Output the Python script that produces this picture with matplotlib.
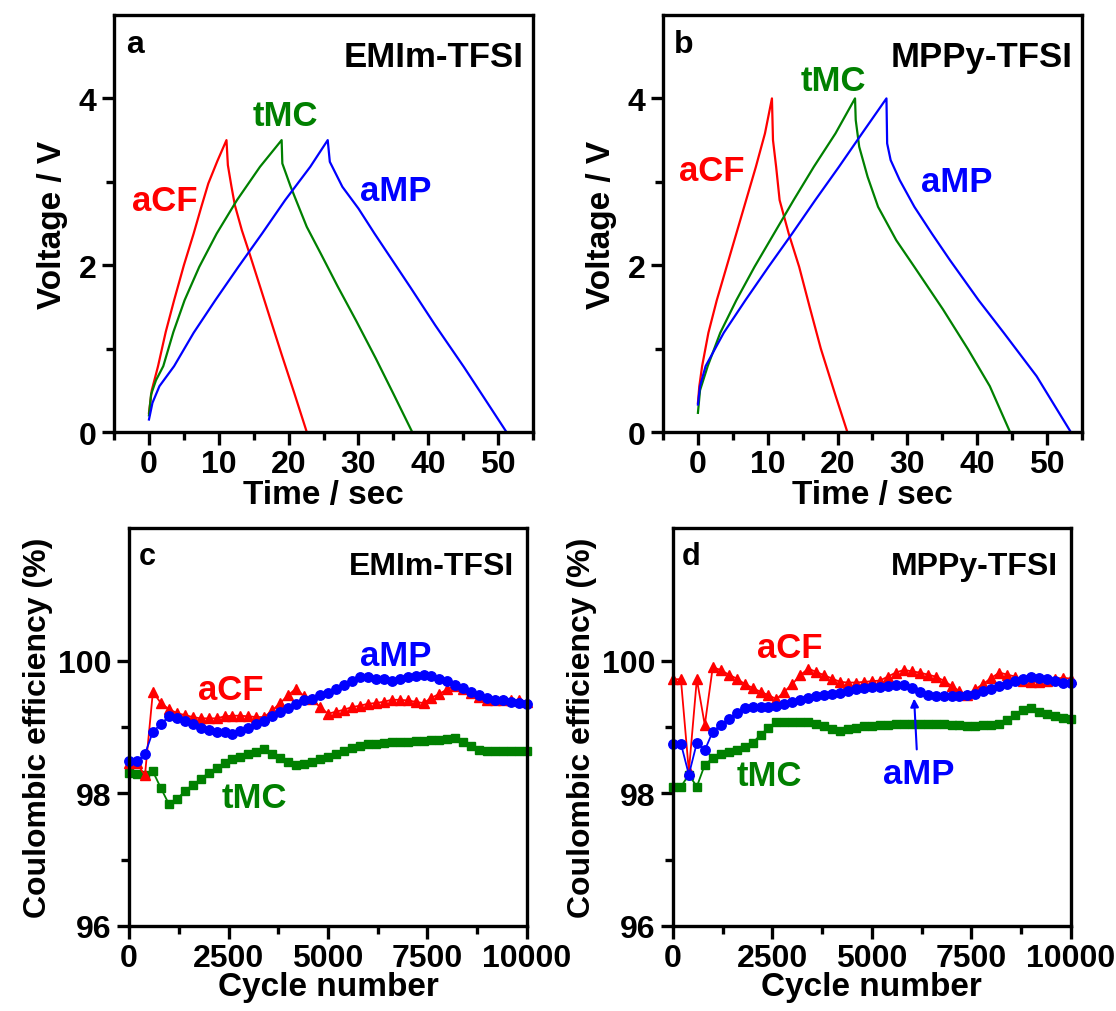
import matplotlib
matplotlib.use("Agg")
import matplotlib.pyplot as plt
from matplotlib.ticker import MultipleLocator, FixedLocator

plt.rcParams['font.family'] = ['Liberation Sans', 'DejaVu Sans']
plt.rcParams['font.weight'] = 'bold'
plt.rcParams['axes.labelweight'] = 'bold'

RED = '#ff0000'
GREEN = '#008000'
BLUE = '#0000ff'

# ---- panel a: EMIm-TFSI charge/discharge (time s, voltage V) ----
a_acf_t = [0, 0.4, 1.3, 2.4, 3.6, 5.0, 6.4, 7.5, 8.5, 9.8, 11.1,
           11.3, 11.8, 12.3, 13.3, 14.4, 16.0, 17.4, 19.0, 20.8, 22.6]
a_acf_v = [0.23, 0.5, 0.79, 1.2, 1.58, 2.0, 2.38, 2.7, 2.98, 3.25, 3.5,
           3.2, 2.95, 2.72, 2.42, 2.14, 1.72, 1.35, 0.93, 0.47, 0.0]
a_tmc_t = [0, 0.3, 1.0, 2.05, 3.5, 5.1, 7.2, 9.7, 12.6, 15.9, 19.0,
           19.1, 20.3, 22.6, 24.6, 27.0, 29.7, 32.5, 35.0, 37.7]
a_tmc_v = [0.2, 0.45, 0.62, 0.79, 1.2, 1.58, 1.98, 2.38, 2.78, 3.18, 3.5,
           3.22, 2.94, 2.46, 2.14, 1.75, 1.33, 0.88, 0.46, 0.0]
a_amp_t = [0, 0.5, 1.5, 3.6, 6.4, 9.5, 12.8, 16.2, 19.5, 23.1, 25.6,
           25.9, 27.7, 30.0, 32.3, 37.4, 41.0, 45.1, 48.0, 51.2]
a_amp_v = [0.15, 0.35, 0.55, 0.79, 1.19, 1.58, 1.98, 2.38, 2.78, 3.18, 3.5,
           3.24, 2.94, 2.68, 2.38, 1.74, 1.28, 0.78, 0.41, 0.0]

# ---- panel b: MPPy-TFSI charge/discharge ----
b_acf_t = [0, 0.2, 0.6, 1.5, 2.7, 4.1, 5.5, 6.9, 8.3, 9.6, 10.6,
           10.75, 11.2, 11.7, 13.0, 14.5, 16.0, 17.6, 19.7, 21.4]
b_acf_v = [0.35, 0.55, 0.79, 1.19, 1.58, 1.98, 2.38, 2.78, 3.18, 3.58, 4.0,
           3.5, 3.18, 2.78, 2.38, 1.98, 1.5, 1.0, 0.44, 0.0]
b_tmc_t = [0, 0.3, 1.4, 3.2, 5.5, 8.1, 10.9, 13.7, 16.6, 19.7, 22.5,
           22.6, 23.1, 24.3, 25.8, 28.4, 31.0, 35.1, 38.7, 41.8, 44.7]
b_tmc_v = [0.23, 0.5, 0.79, 1.19, 1.58, 1.98, 2.38, 2.78, 3.18, 3.58, 4.0,
           3.74, 3.42, 3.06, 2.70, 2.30, 1.98, 1.47, 0.99, 0.55, 0.0]
b_amp_t = [0, 0.3, 1.1, 3.7, 6.8, 10.1, 13.5, 16.8, 20.2, 23.5, 27.0,
           27.1, 27.6, 28.9, 31.0, 33.5, 36.1, 40.2, 43.8, 48.5, 53.4]
b_amp_v = [0.33, 0.55, 0.79, 1.19, 1.58, 1.98, 2.38, 2.78, 3.18, 3.58, 4.0,
           3.46, 3.26, 3.02, 2.70, 2.38, 2.06, 1.58, 1.19, 0.67, 0.0]

# ---- panels c, d: coulombic efficiency every 200 cycles ----
cycles = list(range(0, 10001, 200))

c_amp = [98.48, 98.48, 98.59, 98.93, 99.04, 99.16, 99.13, 99.09, 99.04, 98.99,
         98.95, 98.93, 98.92, 98.90, 98.94, 98.99, 99.04, 99.09, 99.16, 99.22,
         99.28, 99.35, 99.40, 99.42, 99.48, 99.51, 99.58, 99.63, 99.70, 99.76,
         99.75, 99.73, 99.72, 99.70, 99.73, 99.75, 99.77, 99.79, 99.77, 99.73,
         99.70, 99.64, 99.59, 99.53, 99.48, 99.44, 99.41, 99.40, 99.37, 99.36,
         99.35]
c_acf = [98.45, 98.45, 98.27, 99.53, 99.36, 99.27, 99.21, 99.18, 99.15, 99.13,
         99.13, 99.13, 99.16, 99.17, 99.17, 99.16, 99.15, 99.15, 99.25, 99.36,
         99.48, 99.58, 99.46, 99.42, 99.30, 99.20, 99.23, 99.26, 99.30, 99.32,
         99.35, 99.36, 99.38, 99.41, 99.41, 99.40, 99.38, 99.36, 99.44, 99.50,
         99.57, 99.62, 99.58, 99.51, 99.45, 99.40, 99.40, 99.40, 99.40, 99.40,
         99.38]
c_tmc = [98.30, 98.29, 98.28, 98.33, 98.08, 97.84, 97.91, 98.03, 98.13, 98.21,
         98.31, 98.38, 98.46, 98.51, 98.55, 98.59, 98.63, 98.67, 98.60, 98.53,
         98.47, 98.42, 98.44, 98.47, 98.51, 98.55, 98.59, 98.64, 98.69, 98.72,
         98.74, 98.75, 98.76, 98.77, 98.78, 98.78, 98.79, 98.79, 98.80, 98.81,
         98.82, 98.83, 98.77, 98.71, 98.65, 98.64, 98.64, 98.64, 98.64, 98.64,
         98.64]

d_amp = [98.75, 98.75, 98.28, 98.76, 98.65, 98.93, 99.03, 99.12, 99.21, 99.29,
         99.30, 99.30, 99.30, 99.31, 99.34, 99.38, 99.41, 99.44, 99.46, 99.48,
         99.49, 99.51, 99.54, 99.57, 99.59, 99.60, 99.61, 99.62, 99.63, 99.63,
         99.59, 99.53, 99.48, 99.46, 99.46, 99.46, 99.47, 99.48, 99.50, 99.54,
         99.58, 99.62, 99.65, 99.69, 99.72, 99.75, 99.74, 99.72, 99.69, 99.66,
         99.67]
d_acf = [99.72, 99.72, 98.33, 99.72, 99.03, 99.90, 99.86, 99.79, 99.73, 99.65,
         99.59, 99.53, 99.48, 99.42, 99.53, 99.65, 99.78, 99.88, 99.83, 99.78,
         99.73, 99.68, 99.67, 99.67, 99.68, 99.69, 99.70, 99.76, 99.82, 99.86,
         99.84, 99.82, 99.79, 99.76, 99.70, 99.62, 99.54, 99.48, 99.57, 99.65,
         99.74, 99.82, 99.79, 99.76, 99.70, 99.68, 99.68, 99.70, 99.73, 99.74,
         99.73]
d_tmc = [98.10, 98.10, 98.28, 98.10, 98.43, 98.53, 98.59, 98.62, 98.66, 98.70,
         98.76, 98.88, 98.99, 99.08, 99.08, 99.08, 99.08, 99.07, 99.04, 99.01,
         98.97, 98.94, 98.97, 98.99, 99.01, 99.02, 99.03, 99.03, 99.04, 99.05,
         99.05, 99.05, 99.05, 99.05, 99.04, 99.03, 99.03, 99.02, 99.02, 99.03,
         99.03, 99.04, 99.11, 99.18, 99.25, 99.28, 99.23, 99.20, 99.17, 99.13,
         99.12]

FS = 23     # tick labels
LAB = 24    # axis labels
TXT = 25    # in-plot text

fig = plt.figure(figsize=(11.16, 10.12), dpi=100)
ax_a = fig.add_axes([0.1022, 0.5721, 0.3754, 0.4121])
ax_b = fig.add_axes([0.5941, 0.5721, 0.3754, 0.4121])
ax_c = fig.add_axes([0.1156, 0.0840, 0.3566, 0.3933])
ax_d = fig.add_axes([0.6030, 0.0840, 0.3566, 0.3933])


def style(ax):
    for s in ax.spines.values():
        s.set_linewidth(2.4)
    ax.tick_params(which='both', direction='out', width=2.4, labelsize=FS,
                   top=False, right=False)
    ax.tick_params(which='major', length=9)
    ax.tick_params(which='minor', length=5.5)
    for lab in ax.get_xticklabels() + ax.get_yticklabels():
        lab.set_fontweight('bold')


# voltage panels
for ax, curves, tag, name, lbl in [
    (ax_a, [(a_acf_t, a_acf_v, RED), (a_tmc_t, a_tmc_v, GREEN), (a_amp_t, a_amp_v, BLUE)],
     'a', 'EMIm-TFSI', [(2.3, 2.78), (19.5, 3.80), (35.4, 2.90)]),
    (ax_b, [(b_acf_t, b_acf_v, RED), (b_tmc_t, b_tmc_v, GREEN), (b_amp_t, b_amp_v, BLUE)],
     'b', 'MPPy-TFSI', [(2.0, 3.14), (19.4, 4.22), (37.0, 3.0)]),
]:
    for t, v, col in curves:
        ax.plot(t, v, color=col, lw=1.6)
    ax.set_xlim(-5, 55)
    ax.set_ylim(0, 5)
    ax.xaxis.set_major_locator(MultipleLocator(10))
    ax.xaxis.set_minor_locator(MultipleLocator(5))
    ax.yaxis.set_major_locator(FixedLocator([0, 2, 4]))
    ax.yaxis.set_minor_locator(FixedLocator([1, 3]))
    ax.set_xlabel('Time / sec', fontsize=LAB, labelpad=0)
    ax.set_ylabel('Voltage / V', fontsize=LAB, labelpad=8)
    style(ax)
    ax.text(0.05, 0.93, tag, transform=ax.transAxes, fontsize=TXT - 2,
            ha='center', va='center')
    ax.text(0.978, 0.90, name, transform=ax.transAxes, fontsize=TXT,
            ha='right', va='center')
    for (x, y), s, col in zip(lbl, ['aCF', 'tMC', 'aMP'], [RED, GREEN, BLUE]):
        ax.text(x, y, s, color=col, fontsize=TXT, ha='center', va='center')

# efficiency panels
for ax, amp, acf, tmc, tag, name, lbl in [
    (ax_c, c_amp, c_acf, c_tmc, 'c', 'EMIm-TFSI',
     [(2554, 99.57), (3159, 97.94), (6706, 100.08)]),
    (ax_d, d_amp, d_acf, d_tmc, 'd', 'MPPy-TFSI',
     [(2923, 100.20), (2428, 98.27), (6187, 98.30)]),
]:
    ax.plot(cycles, tmc, color=GREEN, marker='s', ms=5.5, lw=1.3, clip_on=False)
    ax.plot(cycles, acf, color=RED, marker='^', ms=6.5, lw=1.3, clip_on=False)
    ax.plot(cycles, amp, color=BLUE, marker='o', ms=6.8, lw=1.3, clip_on=False)
    ax.set_xlim(0, 10000)
    ax.set_ylim(96, 102)
    ax.xaxis.set_major_locator(MultipleLocator(2500))
    ax.xaxis.set_minor_locator(MultipleLocator(1250))
    ax.yaxis.set_major_locator(FixedLocator([96, 98, 100]))
    ax.yaxis.set_minor_locator(FixedLocator([97, 99]))
    ax.set_xlabel('Cycle number', fontsize=LAB, labelpad=-2)
    ax.set_ylabel('Coulombic efficiency (%)', fontsize=LAB - 1, labelpad=4)
    style(ax)
    ax.text(0.045, 0.93, tag, transform=ax.transAxes, fontsize=TXT - 3,
            ha='center', va='center')
    ax.text(0.967, 0.905, name, transform=ax.transAxes, fontsize=TXT - 2,
            ha='right', va='center')
    for (x, y), s, col in zip(lbl, ['aCF', 'tMC', 'aMP'], [RED, GREEN, BLUE]):
        ax.text(x, y, s, color=col, fontsize=TXT, ha='center', va='center')

ax_d.annotate('', xy=(6056, 99.47), xytext=(6130, 98.62),
              arrowprops=dict(arrowstyle='-|>', color=BLUE, lw=1.5,
                              mutation_scale=12))

fig.savefig('out.png', dpi=100)
